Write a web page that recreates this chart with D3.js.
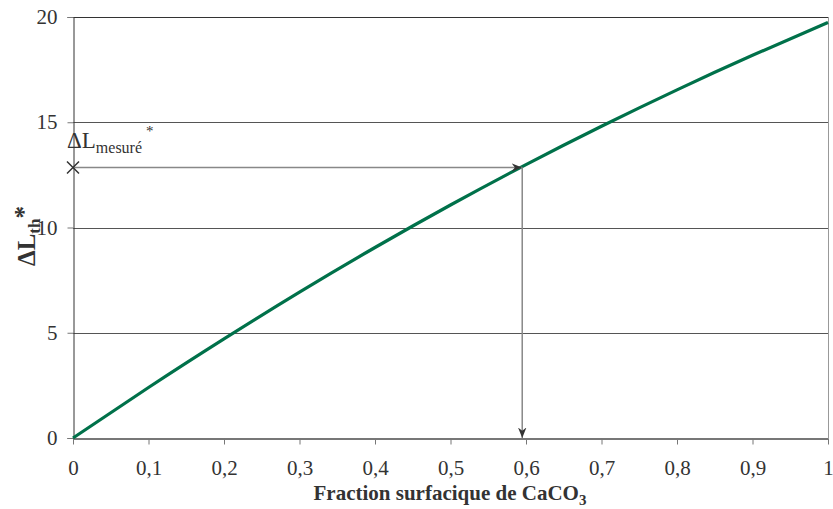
<!DOCTYPE html>
<html><head><meta charset="utf-8">
<script src="https://cdn.jsdelivr.net/npm/d3@7"></script>
<style>body{margin:0;background:#fff}svg{display:block}svg text{font-family:"Liberation Serif","Times New Roman",serif !important;fill:#333}</style>
</head><body><svg id="c" width="833" height="509"></svg>
<script>
const xValues = [0, 0.1, 0.2, 0.3, 0.4, 0.5, 0.6, 0.7, 0.8, 0.9, 1.0];
const yValues = [0, 2.40, 4.71, 6.93, 9.05, 11.07, 12.99, 14.81, 16.54, 18.18, 19.74];
const xTicks = [0, 0.1, 0.2, 0.3, 0.4, 0.5, 0.6, 0.7, 0.8, 0.9, 1];
const yTicks = [0, 5, 10, 15, 20];
const measuredX = 0.595, measuredY = 12.85;

const SERIF = '"Liberation Serif","Times New Roman",serif';
const svg = d3.select("#c");
const x = d3.scaleLinear().domain([0, 1]).range([73, 828]);
const y = d3.scaleLinear().domain([0, 20]).range([438, 17]);
const fmt = d => String(d).replace(".", ",");

svg.append("defs").append("marker").attr("id","ah").attr("viewBox","0 0 10 10")
  .attr("refX",10).attr("refY",5).attr("markerWidth",7).attr("markerHeight",7).attr("orient","auto")
  .append("path").attr("d","M0,1 L10,5 L0,9 L3,5 Z").attr("fill","#333");

// gridlines
svg.append("g").selectAll("line").data([5,10,15]).join("line")
  .attr("x1", x(0)).attr("x2", x(1)).attr("y1", d=>Math.round(y(d))+0.5).attr("y2", d=>Math.round(y(d))+0.5)
  .attr("stroke","#555").attr("stroke-width",1);
// top border
svg.append("line").attr("x1",x(0)).attr("x2",x(1)).attr("y1",y(20)+0.5).attr("y2",y(20)+0.5).attr("stroke","#333");
// right border
svg.append("line").attr("x1",x(1)+0.5).attr("x2",x(1)+0.5).attr("y1",y(20)).attr("y2",y(0)).attr("stroke","#999");

// y axis
const ya = svg.append("g").attr("transform",`translate(${x(0)+0.5},0)`)
  .call(d3.axisLeft(y).tickValues(yTicks).tickSize(6).tickPadding(10).tickFormat(fmt));
ya.attr("font-family",SERIF).attr("font-size",21);
ya.select(".domain").attr("stroke","#333");
ya.selectAll(".tick line").attr("stroke","#777");
ya.selectAll("text").style("font-family",SERIF).style("font-size","21px").attr("fill","#333");

// x axis
const xa = svg.append("g").attr("transform",`translate(0,${y(0)+0.5})`)
  .call(d3.axisBottom(x).tickValues(xTicks).tickSize(6).tickSizeOuter(0).tickPadding(16).tickFormat(fmt));
xa.attr("font-family",SERIF).attr("font-size",21);
xa.select(".domain").attr("stroke","#777").attr("stroke-width",2);
xa.selectAll(".tick line").attr("stroke","#777");
xa.selectAll("text").style("font-family",SERIF).style("font-size","21px").attr("fill","#333");

// curve
const pts = xValues.map((v,i)=>[v,yValues[i]]);
svg.append("path").datum(pts)
  .attr("d", d3.line().x(d=>x(d[0])).y(d=>y(d[1])).curve(d3.curveNatural))
  .attr("fill","none").attr("stroke","#00714a").attr("stroke-width",3.2);

// annotation arrows
svg.append("line").attr("x1",x(0)).attr("y1",y(measuredY)).attr("x2",x(measuredX)).attr("y2",y(measuredY))
  .attr("stroke","#888").attr("stroke-width",1.5).attr("marker-end","url(#ah)");
svg.append("line").attr("x1",x(measuredX)).attr("y1",y(measuredY)).attr("x2",x(measuredX)).attr("y2",y(0))
  .attr("stroke","#888").attr("stroke-width",1.5).attr("marker-end","url(#ah)");
// X marker
const mx = x(0), my = y(measuredY);
svg.append("path").attr("d",`M${mx-6},${my-6}L${mx+6},${my+6}M${mx-6},${my+6}L${mx+6},${my-6}`)
  .attr("stroke","#333").attr("stroke-width",1.5);

// label ΔL mesuré *
const lab = svg.append("text").attr("x",67).attr("y",148).style("font-size","23px");
lab.append("tspan").text("ΔL");
lab.append("tspan").style("font-size","16px").attr("dy",5).text("mesuré");
lab.append("tspan").style("font-size","15px").attr("dx",4).attr("dy",-17).text("*");

// x title
const xt = svg.append("text").attr("x",450).attr("y",500).attr("text-anchor","middle")
  .style("font-size","21px").attr("font-weight","bold");
xt.append("tspan").text("Fraction surfacique de CaCO");
xt.append("tspan").style("font-size","15px").attr("dy",5).text("3");

// y title
const yt = svg.append("text").attr("transform","translate(35,236) rotate(-90)").attr("text-anchor","middle")
  .style("font-size","25px").attr("font-weight","bold");
yt.append("tspan").text("ΔL");
yt.append("tspan").style("font-size","17px").attr("dy",5).text("th");
yt.append("tspan").attr("dy",-8).text("*");
</script></body></html>
